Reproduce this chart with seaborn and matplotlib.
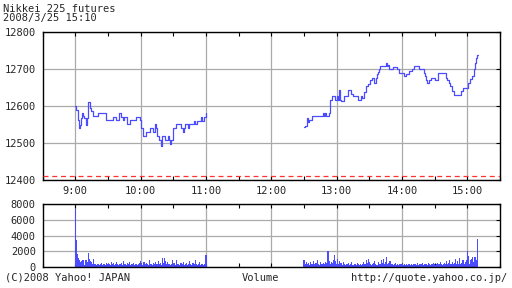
import numpy as np
import pandas as pd
import seaborn as sns
import matplotlib.pyplot as plt

# price, step series (time "H:MM", price)
am_times = ["9:00", "9:01", "9:02", "9:03", "9:04", "9:05", "9:06", "9:07", "9:08", "9:10",
            "9:11", "9:12", "9:13", "9:14", "9:16", "9:21", "9:28", "9:35", "9:37", "9:40",
            "9:42", "9:44", "9:45", "9:47", "9:50", "9:56", "9:59", "10:00", "10:02", "10:05",
            "10:09", "10:11", "10:13", "10:14", "10:15", "10:17", "10:19", "10:20", "10:22", "10:25",
            "10:26", "10:27", "10:28", "10:30", "10:32", "10:37", "10:39", "10:40", "10:41", "10:43",
            "10:44", "10:49", "10:50", "10:52", "10:55", "10:56", "10:58", "11:00"]
am_prices = [12600, 12590, 12563, 12541, 12550, 12568, 12581, 12572, 12568, 12550,
             12568, 12611, 12595, 12587, 12572, 12581, 12561, 12570, 12561, 12581,
             12570, 12561, 12570, 12552, 12561, 12570, 12563, 12541, 12518, 12530,
             12541, 12530, 12551, 12541, 12518, 12509, 12491, 12518, 12509, 12518,
             12509, 12497, 12509, 12541, 12551, 12541, 12530, 12541, 12551, 12541,
             12551, 12560, 12551, 12560, 12570, 12560, 12570, 12581]

pm_times = ["12:30", "12:31", "12:33", "12:34", "12:35", "12:37", "12:47", "12:48", "12:49", "12:50",
            "12:53", "12:54", "12:56", "12:58", "13:00", "13:01", "13:02", "13:03", "13:04", "13:07",
            "13:10", "13:13", "13:15", "13:20", "13:22", "13:23", "13:25", "13:27", "13:29", "13:31",
            "13:32", "13:34", "13:36", "13:37", "13:38", "13:39", "13:40", "13:45", "13:46", "13:47",
            "13:48", "13:52", "13:55", "13:57", "14:02", "14:04", "14:06", "14:09", "14:11", "14:16",
            "14:20", "14:21", "14:22", "14:23", "14:25", "14:27", "14:30", "14:33", "14:38", "14:40",
            "14:41", "14:43", "14:44", "14:46", "14:48", "14:54", "14:56", "15:01", "15:02", "15:04",
            "15:06", "15:07", "15:08", "15:09", "15:10"]
pm_prices = [12542, 12545, 12568, 12556, 12563, 12572, 12581, 12572, 12581, 12572,
             12581, 12617, 12626, 12617, 12626, 12617, 12644, 12617, 12613, 12626,
             12643, 12632, 12626, 12617, 12626, 12622, 12637, 12653, 12660, 12671,
             12676, 12662, 12676, 12686, 12692, 12700, 12708, 12716, 12708, 12712,
             12700, 12705, 12700, 12689, 12680, 12686, 12695, 12700, 12708, 12700,
             12689, 12680, 12671, 12662, 12671, 12676, 12671, 12689, 12689, 12676,
             12671, 12662, 12653, 12640, 12631, 12640, 12650, 12663, 12672, 12681,
             12700, 12716, 12730, 12739, 12739]

# volume per minute, 9:00-11:00 and 12:30-15:09
am_volume = [7400, 3400, 1600, 1100, 900, 600, 700, 800, 200, 800, 900,
             600, 1800, 1000, 700, 600, 300, 1000, 300, 200, 400,
             300, 200, 300, 500, 200, 300, 400, 200, 500, 400,
             300, 200, 600, 300, 500, 200, 300, 600, 400, 200,
             300, 500, 200, 700, 300, 400, 200, 500, 300, 600,
             200, 300, 500, 200, 400, 300, 200, 300, 500, 700,
             300, 200, 600, 400, 500, 300, 200, 800, 300, 400,
             200, 500, 300, 600, 400, 700, 300, 500, 200, 1100,
             500, 1100, 700, 300, 600, 400, 200, 300, 800, 300,
             500, 200, 900, 400, 300, 200, 500, 300, 600, 200,
             300, 500, 200, 400, 700, 300, 200, 500, 300, 900,
             400, 200, 300, 600, 200, 300, 400, 200, 300, 1500]
pm_volume = [900, 400, 600, 300, 500, 200, 600, 300, 400, 700,
             300, 500, 800, 300, 200, 600, 400, 300, 500, 300,
             600, 500, 1950, 700, 400, 600, 500, 800, 1500, 700,
             400, 1000, 300, 700, 500, 200, 600, 300, 200, 400,
             300, 500, 200, 300, 600, 200, 400, 300, 200, 500,
             300, 200, 400, 200, 300, 600, 400, 900, 500, 1000,
             600, 400, 200, 300, 500, 700, 300, 200, 600, 400,
             300, 800, 500, 1000, 400, 600, 1300, 300, 500, 700,
             400, 300, 200, 300, 500, 200, 300, 200, 400, 300,
             300, 200, 400, 200, 300, 200, 300, 400, 200, 300,
             200, 300, 400, 200, 500, 200, 300, 400, 300, 500,
             200, 400, 300, 200, 500, 300, 200, 400, 300, 500,
             300, 200, 400, 500, 300, 600, 300, 200, 400, 500,
             300, 700, 400, 500, 800, 300, 600, 400, 500, 1000,
             400, 700, 300, 1100, 400, 500, 800, 300, 600, 900,
             2000, 1400, 300, 900, 1000, 1200, 600, 1200, 800, 3600]

hour_labels = ["9:00", "10:00", "11:00", "12:00", "13:00", "14:00", "15:00"]
prev_close = 12410


def to_min(t):
    h, m = t.split(":")
    return int(h) * 60 + int(m)


am = pd.DataFrame({"t": [to_min(t) for t in am_times], "price": am_prices})
pm = pd.DataFrame({"t": [to_min(t) for t in pm_times], "price": pm_prices})
vol = pd.DataFrame({
    "t": list(range(540, 540 + len(am_volume))) + list(range(750, 750 + len(pm_volume))),
    "volume": am_volume + pm_volume,
})

sns.set_style("white")
plt.rcParams["font.family"] = ["DejaVu Sans Mono"]

fig = plt.figure(figsize=(5.12, 2.88), dpi=100)
ax = fig.add_axes([42.7 / 512, 1 - 180 / 288, 457.3 / 512, 148 / 288])
axv = fig.add_axes([42.7 / 512, 1 - 266.7 / 288, 457.3 / 512, 62.4 / 288])

blue = "#4b4bff"
grid_c = "#aaaaaa"
hours = [to_min(h) for h in hour_labels]
halves = [h + 30 for h in [480] + hours]

# price panel
sns.lineplot(data=am, x="t", y="price", drawstyle="steps-post", color=blue, lw=0.9, ax=ax)
sns.lineplot(data=pm, x="t", y="price", drawstyle="steps-post", color=blue, lw=0.9, ax=ax)
ax.axhline(prev_close, color="#ff3030", ls=(0, (4, 3)), lw=0.9, zorder=3)
ax.set_xlim(510, 930)
ax.set_ylim(12400, 12800)
ax.set_yticks([12400, 12500, 12600, 12700, 12800])
ax.set_xticks(hours)
ax.set_xticklabels(hour_labels)
ax.set_xticks(halves, minor=True)

# volume panel
sns.barplot(data=vol, x="t", y="volume", native_scale=True, color=blue, width=1.0,
            saturation=1, edgecolor="none", linewidth=0, ax=axv)
axv.set_xlim(510, 930)
axv.set_ylim(0, 8000)
axv.set_yticks([0, 2000, 4000, 6000, 8000])
axv.set_xticks(hours)
axv.set_xticklabels([])
axv.set_xticks(halves, minor=True)

for a in (ax, axv):
    a.set_xlabel("")
    a.set_ylabel("")
    a.grid(True, which="major", color=grid_c, lw=0.9)
    a.set_axisbelow(True)
    for s in a.spines.values():
        s.set_color("black")
        s.set_linewidth(1.0)
    a.tick_params(axis="x", which="both", direction="in", top=True, bottom=True,
                  length=3, width=0.8, color="black", labelsize=7.5, pad=4)
    a.tick_params(axis="y", which="both", direction="in", left=False, right=True,
                  length=3, width=0.8, color="black", labelsize=7.5, pad=5)

fig.text(3 / 512, 1 - 8.5 / 288, "Nikkei 225 futures", fontsize=7.5, va="center", ha="left")
fig.text(3 / 512, 1 - 18.5 / 288, "2008/3/25 15:10", fontsize=7.5, va="center", ha="left")
fig.text(5 / 512, 1 - 278 / 288, "(C)2008 Yahoo! JAPAN", fontsize=7.5, va="center", ha="left")
fig.text(260 / 512, 1 - 278 / 288, "Volume", fontsize=7.5, va="center", ha="center")
fig.text(507 / 512, 1 - 278 / 288, "http://quote.yahoo.co.jp/", fontsize=7.5, va="center", ha="right")

fig.savefig("out.png", dpi=100)
